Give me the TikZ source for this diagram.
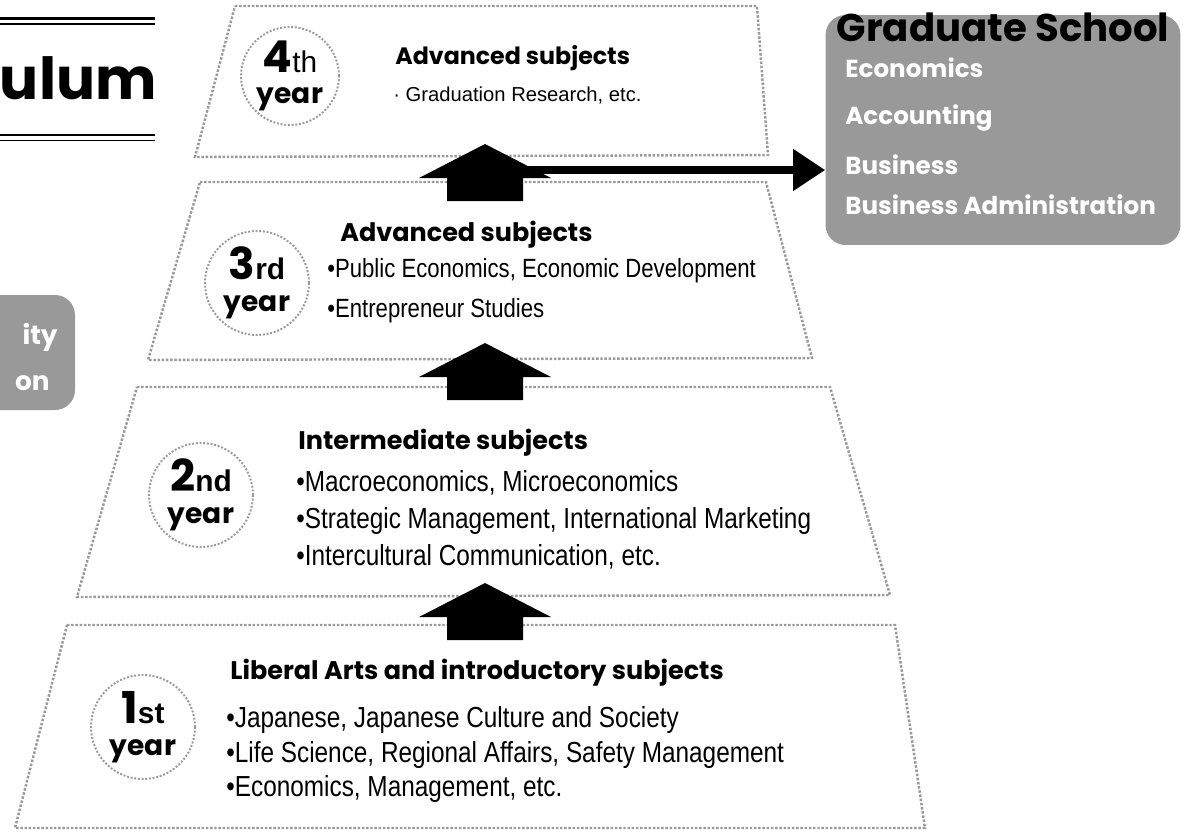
\documentclass[tikz,border=0pt]{standalone}
\usepackage{fontspec}
\setmainfont{Liberation Sans}
\newfontfamily\headfont{Poppins}
\newfontfamily\narrowfont{Liberation Sans}[FakeStretch=0.84]
\usepackage{tikz}
\usetikzlibrary{calc,arrows.meta,positioning}
\definecolor{edgegray}{gray}{0.6}
\definecolor{padgray}{gray}{0.6}
\tikzset{
  tier/.style={draw=edgegray,line width=1.4pt,densely dotted},
  ring/.style={circle,draw=edgegray,line width=1.1pt,densely dotted,align=center,inner sep=0pt,
    minimum size=2.08cm,font=\headfont\bfseries\fontsize{16}{18}\selectfont},
  hd/.style={anchor=west,inner sep=0pt,font=\headfont\bfseries\fontsize{14.5}{16}\selectfont},
  item/.style={anchor=west,inner sep=0pt,font=\narrowfont\fontsize{15}{17}\selectfont},
  pad/.style={fill=padgray,rounded corners=0.4cm},
  gitem/.style={anchor=west,inner sep=0pt,text=white,font=\headfont\bfseries\fontsize{14}{15}\selectfont},
  hconn/.style={line width=0.15cm,-{Triangle[length=0.64cm,width=0.8cm]}},
  uparrow/.pic={
    \fill (-38,0) -- (-38,-23) -- (-66,-23) -- (0,-57) -- (66,-23) -- (38,-23) -- (38,0) -- cycle;
    \coordinate (-out) at (30,-31);
  }
}
% year label: big digit, suffix, then "year"
\newcommand{\yrtext}[3][\bfseries]{{\fontsize{25}{18}\selectfont #2}{\normalfont#1\fontsize{17}{18}\selectfont #3}\\[0pt]year}

\begin{document}
\begin{tikzpicture}[x=0.02cm,y=-0.02cm]
\useasboundingbox[fill=white] (0,0) rectangle (1197,833);

% title fragment
\draw[line width=1.2pt] (0,18.5) -- (155,18.5);
\draw[line width=0.7pt] (0,24) -- (155,24);
\node[anchor=east,inner sep=0pt,font=\headfont\bfseries\fontsize{33}{35}\selectfont] (title) at (157,78) {ulum};
\draw[line width=1.2pt] (0,135) -- (155,135);
\draw[line width=0.7pt] (0,140.5) -- (155,140.5);

% side pad, cut at the left
\fill[pad] (-40,295) rectangle (75,410);
\node[anchor=east,inner sep=0pt,text=white,font=\headfont\bfseries\fontsize{15}{16}\selectfont] (padA) at (58,337) {ity};
\node[anchor=east,inner sep=0pt,text=white,font=\headfont\bfseries\fontsize{15}{16}\selectfont] (padB) at (50,383) {on};

% tiers
\draw[tier] (235,6) -- (757,6) -- (768,155) -- (195,157) -- cycle;
\draw[tier] (200,182) -- (766,182) -- (812,358) -- (148,360) -- cycle;
\draw[tier] (137,387) -- (830,387) -- (890,595) -- (77,597) -- cycle;
\draw[tier] (67,625) -- (895,625) -- (925,828) -- (15,828) -- cycle;

% 4th year
\node[ring,minimum size=1.96cm] (y4) at (290,76) {\yrtext[\mdseries]{4}{th}};
\node[hd,font=\headfont\bfseries\fontsize{13.5}{15}\selectfont] (h4) at (395,58) {Advanced subjects};
\node[item,font=\fontsize{11.5}{13}\selectfont] (i41) at (393,95) {· Graduation Research, etc.};

% 3rd year
\node[ring] (y3) at (257,283) {\yrtext{3}{rd}};
\node[hd] (h3) at (340,235) {Advanced subjects};
\node[item] (i31) at (327,271) {•Public Economics, Economic Development};
\node[item] (i32) at (327,311) {•Entrepreneur Studies};

% 2nd year
\node[ring] (y2) at (201,495) {\yrtext{2}{nd}};
\node[hd] (h2) at (298,443) {Intermediate subjects};
\node[item,font=\narrowfont\fontsize{16.5}{18}\selectfont] (i21) at (296,483) {•Macroeconomics, Microeconomics};
\node[item,font=\narrowfont\fontsize{16.5}{18}\selectfont] (i22) at (296,521) {•Strategic Management, International Marketing};
\node[item,font=\narrowfont\fontsize{16.5}{18}\selectfont] (i23) at (296,557) {•Intercultural Communication, etc.};

% 1st year
\node[ring] (y1) at (143,727) {\yrtext{1}{st}};
\node[hd] (h1) at (230,673) {Liberal Arts and introductory subjects};
\node[item,font=\narrowfont\fontsize{16.5}{18}\selectfont] (i11) at (226,720) {•Japanese, Japanese Culture and Society};
\node[item,font=\narrowfont\fontsize{16.5}{18}\selectfont] (i12) at (226,755) {•Life Science, Regional Affairs, Safety Management};
\node[item,font=\narrowfont\fontsize{16.5}{18}\selectfont] (i13) at (226,789) {•Economics, Management, etc.};

% step arrows
\pic (a43) at (485,201) {uparrow};
\pic (a32) at (485,400) {uparrow};
\pic (a21) at (485,640) {uparrow};

% graduate school
\node[pad,minimum width=7.1cm,minimum height=4.6cm] (grad) at (1003,130) {};
\node[inner sep=0pt,font=\headfont\bfseries\fontsize{22}{24}\selectfont] (gtitle) at (1003,27) {Graduate School};
\node[gitem] (g1) at (845,68) {Economics};
\node[gitem] (g2) at (845,118) {Accounting};
\node[gitem] (g3) at (845,165) {Business};
\node[gitem] (g4) at (845,205) {Business Administration};
\draw[hconn] (a43-out) -- (a43-out -| grad.west);
\end{tikzpicture}
\end{document}
